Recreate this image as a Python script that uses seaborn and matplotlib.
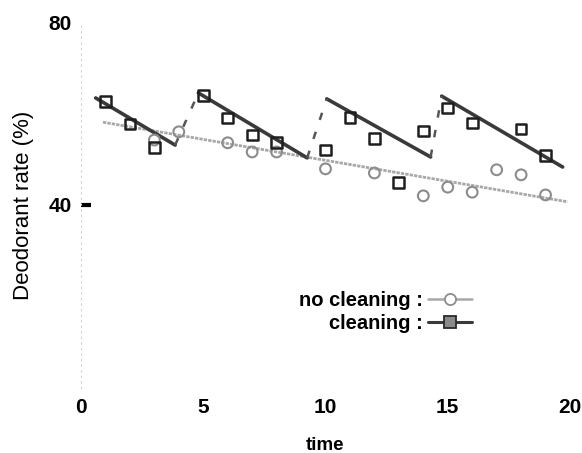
import numpy as np
import pandas as pd
import matplotlib
matplotlib.use("Agg")
import matplotlib.pyplot as plt
from matplotlib.lines import Line2D
import seaborn as sns

# ---- data ----
clean_t = [1, 2, 3, 5, 6, 7, 8, 10, 11, 12, 13, 14, 15, 16, 18, 19]
clean_val = [62.7, 57.7, 52.5, 64.0, 59.0, 55.3, 53.6, 52.0, 59.2, 54.6, 45.0,
             56.2, 61.2, 57.9, 56.6, 50.9]

noclean_t = [3, 4, 6, 7, 8, 10, 12, 14, 15, 16, 17, 18, 19]
noclean_val = [54.2, 56.0, 53.6, 51.6, 51.6, 47.9, 47.0, 42.0, 43.9, 42.8,
               47.7, 46.6, 42.2]

# fitted sawtooth (cleaning) segments
seg_start_t = [0.6, 4.8, 10.05, 14.75]
seg_start_val = [63.4, 64.5, 63.2, 63.8]
seg_end_t = [3.85, 9.25, 14.3, 19.7]
seg_end_val = [53.1, 50.3, 50.5, 48.3]

# fitted trend (no cleaning)
trend_t = [0.9, 19.9]
trend_val = [58.1, 40.7]

x_ticks = [0, 5, 10, 15, 20]
y_ticks = [40, 80]
labels = ["no cleaning :", "cleaning :"]

# ---- tables ----
seg_df = pd.DataFrame({
    "seg": list(range(4)) * 2,
    "t": seg_start_t + seg_end_t,
    "val": seg_start_val + seg_end_val,
})
conn_df = pd.DataFrame({
    "seg": list(range(3)) * 2,
    "t": seg_end_t[:3] + seg_start_t[1:],
    "val": seg_end_val[:3] + seg_start_val[1:],
})
trend_df = pd.DataFrame({"t": trend_t, "val": trend_val})
clean_df = pd.DataFrame({"t": clean_t, "val": clean_val})
noclean_df = pd.DataFrame({"t": noclean_t, "val": noclean_val})

sns.set_theme(style="white")
plt.rcParams["font.family"] = ["Liberation Sans", "DejaVu Sans"]
plt.rcParams["text.color"] = "black"
plt.rcParams["axes.labelcolor"] = "black"
plt.rcParams["xtick.color"] = "black"
plt.rcParams["ytick.color"] = "black"

fig = plt.figure(figsize=(5.82, 4.53), dpi=100)
ax = fig.add_axes([81 / 582, 1 - 388 / 453, 489 / 582, 366 / 453])

dark = "#3a3a3a"
light = "#a8a8a8"

sns.lineplot(data=trend_df, x="t", y="val", ax=ax, color=light, lw=2.0,
             linestyle=(0, (1.2, 0.4)), zorder=2)
sns.lineplot(data=seg_df, x="t", y="val", units="seg", estimator=None,
             sort=False, ax=ax, color=dark, lw=2.6, zorder=3)
sns.lineplot(data=conn_df, x="t", y="val", units="seg", estimator=None,
             sort=False, ax=ax, color="#555555", lw=1.8,
             linestyle=(0, (3, 5)), zorder=3)
sns.scatterplot(data=noclean_df, x="t", y="val", ax=ax, marker="o", s=60,
                facecolor="none", edgecolor="#8c8c8c", linewidth=1.5, zorder=4)
sns.scatterplot(data=clean_df, x="t", y="val", ax=ax, marker="s", s=60,
                facecolor="none", edgecolor="#1e1e1e", linewidth=1.8, zorder=5)

ax.set_xlim(0, 20)
ax.set_ylim(0, 80)
ax.set_xticks(x_ticks)
ax.set_yticks(y_ticks)
ax.set_xticklabels([str(v) for v in x_ticks], fontsize=15, fontweight="bold")
ax.set_yticklabels([str(v) for v in y_ticks], fontsize=15, fontweight="bold")
ax.tick_params(axis="x", length=0, pad=7, colors="black")
ax.tick_params(axis="y", left=True, direction="in", length=7, width=3,
               color="black", labelcolor="black", pad=6.5)
ax.yaxis.get_major_ticks()[1].tick1line.set_visible(False)

for s in ["top", "right", "bottom"]:
    ax.spines[s].set_visible(False)
ax.spines["left"].set_color("#d0d0d0")
ax.spines["left"].set_linestyle((0, (1, 4)))
ax.spines["left"].set_linewidth(0.8)

ax.set_xlabel("time", fontsize=13.5, fontweight="bold", color="black")
ax.set_ylabel("Deodorant rate (%)", fontsize=16, color="black")
ax.xaxis.set_label_coords(0.5, -0.135)
ax.yaxis.set_label_coords(-0.097, 0.5)

handles = [
    Line2D([], [], color=light, lw=1.8, marker="o", markersize=8,
           markerfacecolor="white", markeredgecolor="#8c8c8c", markeredgewidth=1.3),
    Line2D([], [], color=dark, lw=2.2, marker="s", markersize=8,
           markerfacecolor="#8a8a8a", markeredgecolor="#2a2a2a", markeredgewidth=1.3),
]
leg = ax.legend(handles, labels, markerfirst=False, frameon=False,
                loc="upper right", bbox_to_anchor=(0.82, 0.292),
                borderpad=0, handlelength=2.2, handletextpad=0.25,
                labelspacing=0.2, prop={"family": "Liberation Sans",
                                        "weight": "bold", "size": 14.5})
for txt in leg.get_texts():
    txt.set_color("black")

fig.savefig("out.png", dpi=100)
